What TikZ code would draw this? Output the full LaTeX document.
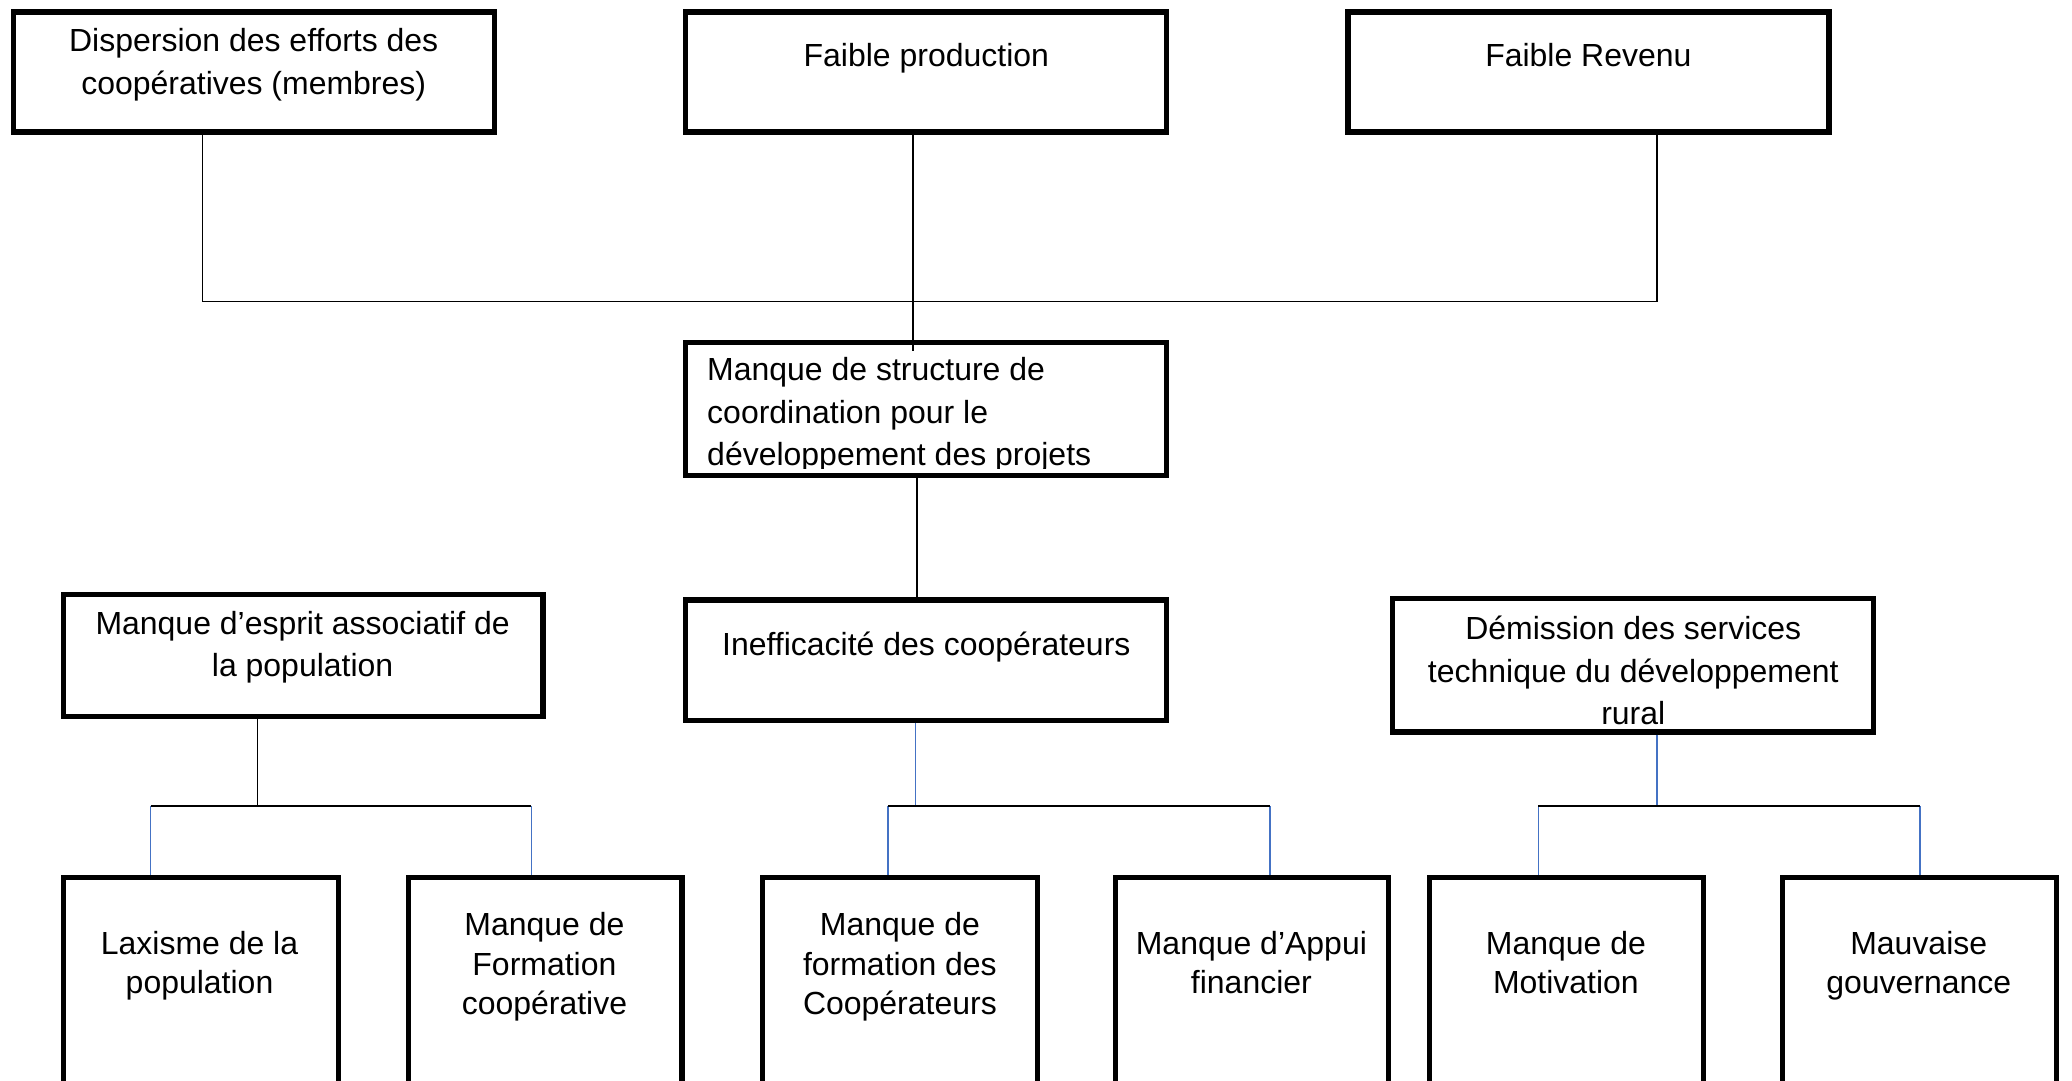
\documentclass[tikz,border=0pt]{standalone}
\usepackage{fontspec}
\setmainfont{Liberation Sans}
\definecolor{conblue}{RGB}{68,114,196}
\newcommand{\fl}{\rule{0pt}{20pt}}
\tikzset{
  boxstyle/.style={draw=black, line width=4pt, rectangle, inner sep=0pt},
  txt/.style={inner sep=0pt, anchor=north, align=center, font=\fontsize{24.2}{32}\selectfont},
  txtb/.style={inner sep=0pt, anchor=north, align=center, font=\fontsize{24.2}{29.7}\selectfont},
  conn/.style={draw=black, line width=1pt},
  bconn/.style={draw=conblue, line width=1pt}
}
\begin{document}
\begin{tikzpicture}[x=1pt,y=-1pt]
\useasboundingbox (0,0) rectangle (1568,818);
\clip (0,0) rectangle (1568,818);
\fill[white] (0,0) rectangle (1568,818);

% top row
\node[boxstyle, minimum width=364pt, minimum height=91pt] (b1) at (192,54.5) {};
\node[boxstyle, minimum width=364pt, minimum height=91pt] (b2) at (701,54.5) {};
\node[boxstyle, minimum width=364pt, minimum height=91pt] (b3) at (1202,54.5) {};
\node[txt] (t1) at (192,19) {\fl Dispersion des efforts des\\coopératives (membres)};
\node[txt] (t2) at (701,30) {\fl Faible production};
\node[txt] (t3) at (1202,30) {\fl Faible Revenu};

% coordination box
\node[boxstyle, minimum width=364pt, minimum height=101pt] (b4) at (701,309.5) {};
\begin{scope}
\clip (517,257) rectangle (885,354.5);
\node[txt, align=left, anchor=north west] (t4) at (535,268) {\fl Manque de structure de\\coordination pour le\\développement des projets};
\end{scope}

% middle row
\node[boxstyle, minimum width=363pt, minimum height=92pt] (b6) at (229.5,496) {};
\node[boxstyle, minimum width=364pt, minimum height=91pt] (b5) at (701,499.5) {};
\node[boxstyle, minimum width=364pt, minimum height=101pt] (b7) at (1236,503.5) {};
\node[txt] (t6) at (229,460) {\fl Manque d’esprit associatif de\\la population};
\node[txt] (t5) at (701,476) {\fl Inefficacité des coopérateurs};
\node[txt] (t7) at (1236,464) {\fl Démission des services\\technique du développement\\rural};

% bottom row
\node[boxstyle, minimum width=208pt, minimum height=192pt] (l1) at (152,760) {};
\node[boxstyle, minimum width=207pt, minimum height=192pt] (l2) at (412.5,760) {};
\node[boxstyle, minimum width=208pt, minimum height=192pt] (l3) at (681,760) {};
\node[boxstyle, minimum width=207pt, minimum height=192pt] (l4) at (947.5,760) {};
\node[boxstyle, minimum width=207pt, minimum height=192pt] (l5) at (1185.5,760) {};
\node[boxstyle, minimum width=207pt, minimum height=192pt] (l6) at (1452.5,760) {};
\node[txtb] (u1) at (151,702) {\fl Laxisme de la\\population};
\node[txtb] (u2) at (412,688) {\fl Manque de\\Formation\\coopérative};
\node[txtb] (u3) at (681,688) {\fl Manque de\\formation des\\Coopérateurs};
\node[txtb] (u4) at (947,702) {\fl Manque d’Appui\\financier};
\node[txtb] (u5) at (1185,702) {\fl Manque de\\Motivation};
\node[txtb] (u6) at (1452,702) {\fl Mauvaise\\gouvernance};

% top connectors
\coordinate (h1) at (153,228);
\coordinate (h3) at (1254,228);
\coordinate (e2) at (691,266);
\draw[conn] (h1 |- b1.south) -- (h1) -- (h3) -- (h3 |- b3.south);
\draw[conn] (e2 |- b2.south) -- (e2);
\coordinate (v45) at (694,400);
\draw[conn] (v45 |- b4.south) -- (v45 |- b5.north);

% middle-left group
\coordinate (g6) at (195,610);
\coordinate (a6l) at (114,610);
\coordinate (a6r) at (402,610);
\draw[conn] (g6 |- b6.south) -- (g6);
\draw[bconn] (a6l) -- (a6l |- l1.north);
\draw[bconn] (a6r) -- (a6r |- l2.north);
\draw[conn] (a6l) -- (a6r);

% middle-centre group
\coordinate (g5) at (693,610);
\coordinate (a5l) at (672,610);
\coordinate (a5r) at (961,610);
\draw[bconn] (g5 |- b5.south) -- (g5);
\draw[bconn] (a5l) -- (a5l |- l3.north);
\draw[bconn] (a5r) -- (a5r |- l4.north);
\draw[conn] (a5l) -- (a5r);

% middle-right group
\coordinate (g7) at (1254,610);
\coordinate (a7l) at (1164,610);
\coordinate (a7r) at (1453,610);
\draw[bconn] (g7 |- b7.south) -- (g7);
\draw[bconn] (a7l) -- (a7l |- l5.north);
\draw[bconn] (a7r) -- (a7r |- l6.north);
\draw[conn] (a7l) -- (a7r);
\end{tikzpicture}
\end{document}
